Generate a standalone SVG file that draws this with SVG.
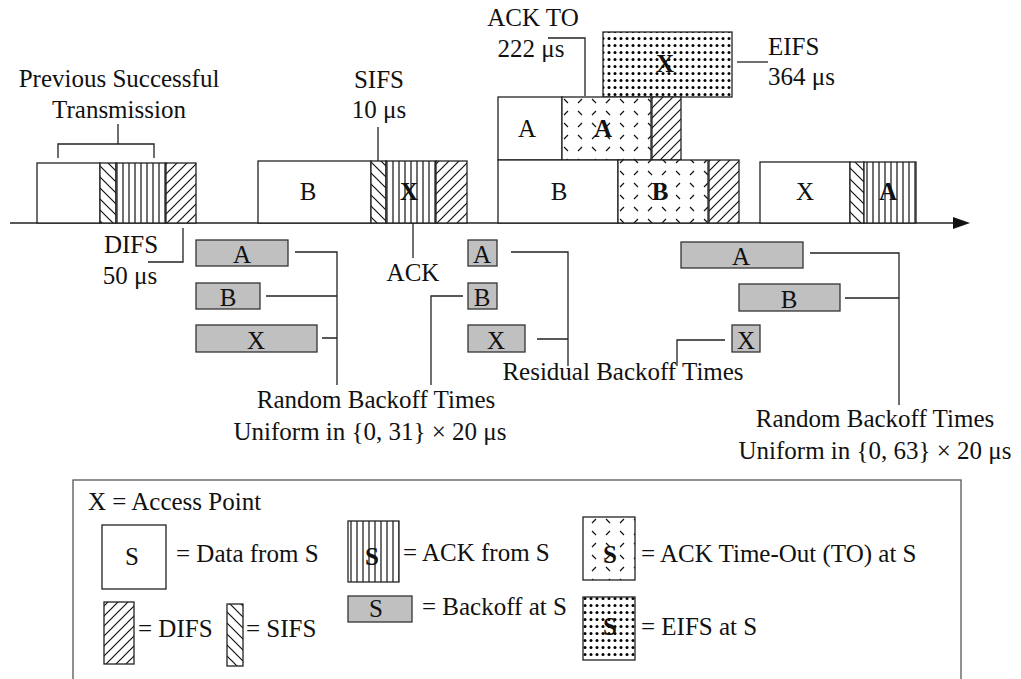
<svg xmlns="http://www.w3.org/2000/svg" width="1021" height="679" viewBox="0 0 1021 679">
<style>
text{font-family:"Liberation Serif","Times New Roman",serif;font-size:25px;fill:#111}
.c{text-anchor:middle}
.b{font-weight:bold}
.cell{stroke:#222;stroke-width:1.3}
.data{fill:#fff}
.difs{fill:url(#pDifs)}
.sifs{fill:url(#pSifs)}
.ack{fill:url(#pAck)}
.ackto{fill:url(#pAckto)}
.eifs{fill:url(#pEifs)}
.bo{fill:#c0c0c0;stroke:#333;stroke-width:1.3}
.ld{fill:none;stroke:#222;stroke-width:1.3}
</style>
<defs>
<pattern id="pDifs" patternUnits="userSpaceOnUse" width="10" height="10">
<rect width="10" height="10" fill="#fff"/>
<path d="M0,10 L10,0 M-2,2 L2,-2 M8,12 L12,8" stroke="#111" stroke-width="1.2"/>
</pattern>
<pattern id="pSifs" patternUnits="userSpaceOnUse" width="11" height="11">
<rect width="11" height="11" fill="#fff"/>
<path d="M0,0 L11,11 M-2,9 L2,13 M9,-2 L13,2" stroke="#111" stroke-width="1.2"/>
</pattern>
<pattern id="pAck" patternUnits="userSpaceOnUse" width="6" height="10">
<rect width="6" height="10" fill="#fff"/>
<path d="M3,0 V10" stroke="#111" stroke-width="1.2"/>
</pattern>
<pattern id="pAckto" patternUnits="userSpaceOnUse" width="28" height="24">
<rect width="28" height="24" fill="#fff"/>
<path d="M4,3 L8,7 M18,7 L22,3 M4,19 L8,15 M18,15 L22,19" stroke="#111" stroke-width="1.2"/>
</pattern>
<pattern id="pEifs" patternUnits="userSpaceOnUse" width="6" height="7">
<rect width="6" height="7" fill="#fff"/>
<circle cx="3" cy="3.5" r="1.5" fill="#000"/>
</pattern>
</defs>

<g id="connectors">
<line class="ld" x1="10" y1="223" x2="955" y2="223"/>
<polygon points="953,217 970,223 953,229" fill="#111"/>
<path class="ld" d="M58,158 V144 H154 V158 M118,144 V124"/>
<path class="ld" d="M183,228 V262 H148"/>
<path class="ld" d="M378,127 V161"/>
<path class="ld" d="M413,223 V258"/>
<path class="ld" d="M548,38 H585 V96"/>
<path class="ld" d="M737,62 H768"/>
<path class="ld" d="M295,252 H337 V385 M266,296 H337 M322,338 H337"/>
<path class="ld" d="M463,296 H431 V385"/>
<path class="ld" d="M511,252 H568 V366 M537,339 H568"/>
<path class="ld" d="M725,340 H677 V366"/>
<path class="ld" d="M810,253 H899 V405 M845,298 H899"/>
</g>

<g id="prev-transmission">
<rect class="cell data" x="37" y="163" width="63" height="60"/>
<rect class="cell sifs" x="100" y="163" width="16" height="60"/>
<rect class="cell ack" x="116" y="163" width="50" height="60"/>
<rect class="cell difs" x="166" y="163" width="30" height="60"/>
</g>
<g id="label-prev"><text class="c" x="119" y="87">Previous Successful</text><text class="c" x="119" y="118">Transmission</text></g>
<g id="label-difs"><text class="c" x="131" y="253">DIFS</text><text class="c" x="130" y="284">50 μs</text></g>
<g id="label-sifs"><text class="c" x="379" y="88">SIFS</text><text class="c" x="379" y="118">10 μs</text></g>
<g id="label-ack"><text class="c" x="413" y="281">ACK</text></g>
<g id="label-ackto"><text class="c" x="533" y="26">ACK TO</text><text class="c" x="531" y="57">222 μs</text></g>
<g id="label-eifs"><text x="768" y="55">EIFS</text><text x="768" y="85">364 μs</text></g>

<g id="tx-B1">
<rect class="cell data" x="258" y="161" width="113" height="62"/>
<rect class="cell sifs" x="371" y="161" width="15" height="62"/>
<rect class="cell ack" x="386" y="161" width="50" height="62"/>
<rect class="cell difs" x="436" y="161" width="31" height="62"/>
<text class="c" x="308" y="200">B</text>
<text class="c b" x="409" y="200">X</text>
</g>

<g id="tx-eifs-X">
<rect class="cell eifs" x="603" y="32" width="129" height="65"/>
<text class="c b" x="665" y="72">X</text>
</g>

<g id="tx-A">
<rect class="cell data" x="498" y="97" width="64" height="63"/>
<rect class="cell ackto" x="562" y="97" width="89" height="63"/>
<rect class="cell difs" x="652" y="97" width="29" height="63"/>
<text class="c" x="527" y="137">A</text>
<text class="c b" x="603" y="137">A</text>
</g>

<g id="tx-B2">
<rect class="cell data" x="498" y="160" width="120" height="63"/>
<rect class="cell ackto" x="618" y="160" width="90" height="63"/>
<rect class="cell difs" x="709" y="160" width="30" height="63"/>
<text class="c" x="559" y="200">B</text>
<text class="c b" x="660" y="200">B</text>
</g>

<g id="tx-X">
<rect class="cell data" x="760" y="162" width="90" height="61"/>
<rect class="cell sifs" x="850" y="162" width="14" height="61"/>
<rect class="cell ack" x="864" y="162" width="52" height="61"/>
<text class="c" x="805" y="200">X</text>
<text class="c b" x="888" y="200">A</text>
</g>

<g id="backoff-1">
<rect class="bo" x="196" y="240" width="92" height="26"/><text class="c" x="242" y="263">A</text>
<rect class="bo" x="196" y="283" width="64" height="26"/><text class="c" x="228" y="306">B</text>
<rect class="bo" x="196" y="325" width="121" height="27"/><text class="c" x="256" y="349">X</text>
</g>
<g id="label-random1"><text class="c" x="376" y="408">Random Backoff Times</text><text class="c" x="370" y="440">Uniform in {0, 31} × 20 μs</text></g>

<g id="backoff-2">
<rect class="bo" x="468" y="240" width="29" height="26"/><text class="c" x="482" y="263">A</text>
<rect class="bo" x="468" y="283" width="29" height="26"/><text class="c" x="482" y="306">B</text>
<rect class="bo" x="468" y="325" width="57" height="27"/><text class="c" x="496" y="349">X</text>
</g>
<g id="label-residual"><text class="c" x="623" y="380">Residual Backoff Times</text></g>

<g id="backoff-3">
<rect class="bo" x="681" y="242" width="122" height="26"/><text class="c" x="741" y="265">A</text>
<rect class="bo" x="739" y="284" width="101" height="27"/><text class="c" x="789" y="308">B</text>
<rect class="bo" x="732" y="325" width="28" height="27"/><text class="c" x="746" y="349">X</text>
</g>
<g id="label-random2"><text class="c" x="875" y="427">Random Backoff Times</text><text class="c" x="875" y="459">Uniform in {0, 63} × 20 μs</text></g>

<g id="legend">
<rect x="73" y="480" width="888" height="215" fill="none" stroke="#555" stroke-width="1.3"/>
<text x="88" y="510">X = Access Point</text>
<rect class="cell data" x="102" y="525" width="64" height="64"/><text class="c" x="132" y="565">S</text>
<text x="176" y="562">= Data from S</text>
<rect class="cell ack" x="348" y="521" width="51" height="61"/><text class="c b" x="372" y="565">S</text>
<text x="403" y="561">= ACK from S</text>
<rect class="cell ackto" x="583" y="517" width="52" height="63"/><text class="c b" x="610" y="563">S</text>
<text x="641" y="562">= ACK Time-Out (TO) at S</text>
<rect class="cell difs" x="104" y="602" width="30" height="62"/>
<text x="138" y="637">= DIFS</text>
<rect class="cell sifs" x="227" y="604" width="16" height="62"/>
<text x="246" y="637">= SIFS</text>
<rect class="bo" x="348" y="596" width="64" height="26"/><text class="c" x="376" y="617">S</text>
<text x="422" y="615">= Backoff at S</text>
<rect class="cell eifs" x="583" y="597" width="52" height="63"/><text class="c b" x="610" y="635">S</text>
<text x="641" y="635">= EIFS at S</text>
</g>
</svg>
